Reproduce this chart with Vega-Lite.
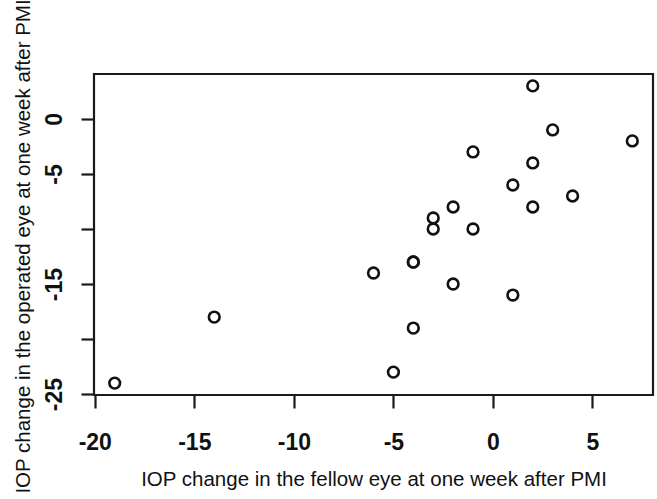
{
  "$schema": "https://vega.github.io/schema/vega-lite/v6.json",
  "width": 559,
  "height": 321,
  "autosize": "none",
  "padding": {"left": 94, "top": 74, "right": 4, "bottom": 104},
  "background": "white",
  "data": {
    "values": [
      {"fellow": 2, "operated": 3},
      {"fellow": 3, "operated": -1},
      {"fellow": 7, "operated": -2},
      {"fellow": -1, "operated": -3},
      {"fellow": 2, "operated": -4},
      {"fellow": 1, "operated": -6},
      {"fellow": 4, "operated": -7},
      {"fellow": 2, "operated": -8},
      {"fellow": -2, "operated": -8},
      {"fellow": -3, "operated": -9},
      {"fellow": -3, "operated": -10},
      {"fellow": -1, "operated": -10},
      {"fellow": -4, "operated": -13},
      {"fellow": -4, "operated": -13},
      {"fellow": -6, "operated": -14},
      {"fellow": -2, "operated": -15},
      {"fellow": 1, "operated": -16},
      {"fellow": -14, "operated": -18},
      {"fellow": -4, "operated": -19},
      {"fellow": -5, "operated": -23},
      {"fellow": -19, "operated": -24}
    ]
  },
  "mark": {"type": "point", "shape": "circle", "filled": false, "size": 115, "stroke": "#111", "strokeWidth": 2.6, "opacity": 1},
  "encoding": {
    "x": {
      "field": "fellow",
      "type": "quantitative",
      "scale": {"domain": [-20.04, 8.04], "nice": false, "zero": false},
      "axis": {
        "title": "IOP change in the fellow eye at one week after PMI",
        "values": [-20, -15, -10, -5, 0, 5],
        "labelExpr": "'' + datum.value",
        "labelPadding": 23,
        "titlePadding": 15
      }
    },
    "y": {
      "field": "operated",
      "type": "quantitative",
      "scale": {"domain": [-25.08, 4.08], "nice": false, "zero": false},
      "axis": {
        "title": "IOP change in the operated eye at one week after PMI",
        "values": [-25, -20, -15, -10, -5, 0],
        "labelExpr": "datum.value == -10 || datum.value == -20 ? '' : '' + datum.value",
        "labelAngle": -90,
        "labelAlign": "center",
        "labelBaseline": "alphabetic",
        "labelPadding": 20,
        "titlePadding": 10,
        "titleY": 172
      }
    }
  },
  "config": {
    "view": {"stroke": "#1a1a1a", "strokeWidth": 2.2},
    "axis": {
      "domain": false,
      "grid": false,
      "ticks": true,
      "tickSize": 13,
      "tickWidth": 2.2,
      "tickColor": "#1a1a1a",
      "labelFont": "Liberation Sans",
      "labelFontSize": 23,
      "labelFontWeight": "bold",
      "labelColor": "#111",
      "labelOverlap": false,
      "labelFlush": false,
      "titleFont": "Liberation Sans",
      "titleFontSize": 20.5,
      "titleFontWeight": "normal",
      "titleColor": "#111"
    }
  }
}
